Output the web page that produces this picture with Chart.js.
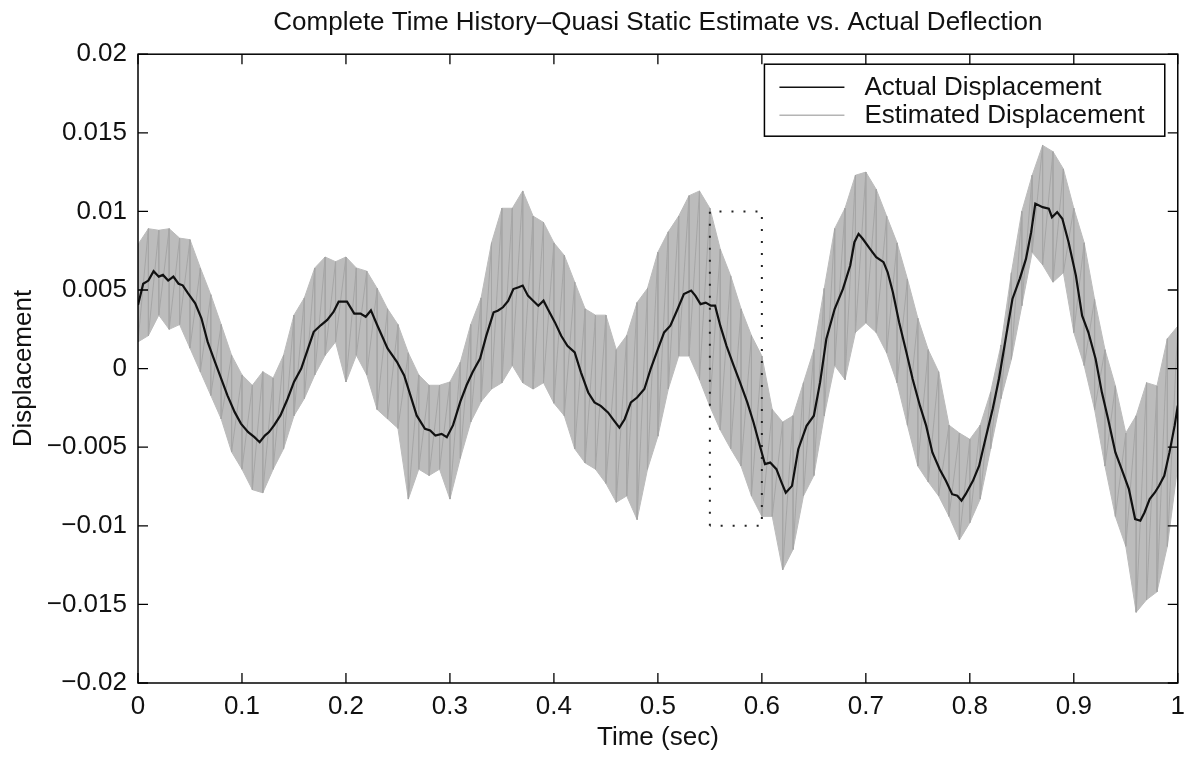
<!DOCTYPE html>
<html>
<head>
<meta charset="utf-8">
<title>Complete Time History</title>
<script src="https://cdn.jsdelivr.net/npm/chart.js@4.4.1/dist/chart.umd.min.js"></script>
<style>
  html, body { margin: 0; padding: 0; background: #fff; }
  #wrap { width: 1193px; height: 761px; }
</style>
</head>
<body>
<div id="wrap"><canvas id="chart" width="1193" height="761"></canvas></div>
<script>
// axis ticks
var xTickValues = [0, 0.1, 0.2, 0.3, 0.4, 0.5, 0.6, 0.7, 0.8, 0.9, 1];
var xTickLabels = ["0", "0.1", "0.2", "0.3", "0.4", "0.5", "0.6", "0.7", "0.8", "0.9", "1"];
var yTickValues = [-0.02, -0.015, -0.01, -0.005, 0, 0.005, 0.01, 0.015, 0.02];
var yTickLabels = ["\u22120.02", "\u22120.015", "\u22120.01", "\u22120.005", "0", "0.005", "0.01", "0.015", "0.02"];

// actual displacement (black line)
var actualTime = [0, 0.005, 0.010, 0.015, 0.020, 0.024, 0.029, 0.034, 0.039, 0.043, 0.048, 0.055, 0.061, 0.067, 0.074, 0.080, 0.086, 0.093, 0.099,
  0.106, 0.112, 0.117, 0.122, 0.126, 0.131, 0.137, 0.144, 0.150, 0.157, 0.163, 0.169, 0.176, 0.182, 0.188, 0.193, 0.201, 0.208, 0.214, 0.219,
  0.224, 0.230, 0.240, 0.249, 0.256, 0.262, 0.268, 0.276, 0.281, 0.286, 0.292, 0.297, 0.303, 0.310, 0.316, 0.322, 0.329, 0.335, 0.342, 0.346,
  0.351, 0.356, 0.361, 0.366, 0.370, 0.375, 0.380, 0.385, 0.390, 0.394, 0.401, 0.407, 0.413, 0.420, 0.426, 0.433, 0.439, 0.445, 0.452, 0.458,
  0.463, 0.468, 0.474, 0.480, 0.487, 0.493, 0.500, 0.506, 0.512, 0.519, 0.525, 0.532, 0.536, 0.541, 0.546, 0.551, 0.555, 0.560, 0.566, 0.573,
  0.579, 0.586, 0.592, 0.599, 0.603, 0.608, 0.614, 0.619, 0.623, 0.629, 0.635, 0.643, 0.650, 0.656, 0.662, 0.670, 0.678, 0.685, 0.689, 0.693,
  0.697, 0.704, 0.710, 0.717, 0.721, 0.726, 0.732, 0.739, 0.745, 0.752, 0.758, 0.764, 0.771, 0.777, 0.783, 0.788, 0.792, 0.796, 0.803, 0.809,
  0.815, 0.822, 0.828, 0.835, 0.841, 0.848, 0.854, 0.859, 0.863, 0.870, 0.876, 0.879, 0.884, 0.889, 0.895, 0.902, 0.908, 0.914, 0.921, 0.927,
  0.933, 0.940, 0.946, 0.953, 0.959, 0.964, 0.968, 0.973, 0.978, 0.982, 0.987, 0.992, 0.997, 1.000];
var actualDisp = [0.00404, 0.0054, 0.0056, 0.0062, 0.00585, 0.00596, 0.0056, 0.00585, 0.0054, 0.0053, 0.0048, 0.00415, 0.0032, 0.0017, 0.00043, -0.00064, -0.0017, -0.00277, -0.0035,
  -0.00404, -0.00436, -0.00468, -0.00426, -0.00404, -0.0036, -0.00298, -0.0019, -0.00085, 0, 0.00117, 0.00234, 0.00277, 0.0031, 0.0036, 0.00426, 0.00426, 0.0035, 0.0035, 0.0033,
  0.0037, 0.00277, 0.00128, 0.00043, -0.00043, -0.0017, -0.00298, -0.00383, -0.00394, -0.00426, -0.00415, -0.00436, -0.0036, -0.0021, -0.00106, -0.0002, 0.00064, 0.0021, 0.00358, 0.00368,
  0.0039, 0.0043, 0.00506, 0.00517, 0.00528, 0.00464, 0.00432, 0.0040, 0.00432, 0.0038, 0.00294, 0.00209, 0.00145, 0.00103, -0.00024, -0.00152, -0.00215, -0.00237, -0.00279, -0.00332,
  -0.00375, -0.00322, -0.00215, -0.00184, -0.0013, -0.00003, 0.00124, 0.0023, 0.00273, 0.00379, 0.00474, 0.00496, 0.00464, 0.0041, 0.0042, 0.0040, 0.0040, 0.00273, 0.00145, 0.00018,
  -0.00088, -0.00215, -0.00343, -0.00513, -0.00608, -0.00598, -0.0064, -0.00725, -0.0079, -0.00746, -0.00513, -0.00364, -0.0030, -0.00088, 0.00188, 0.00379, 0.00507, 0.00656, 0.00804, 0.00857,
  0.00826, 0.00762, 0.00709, 0.00677, 0.00613, 0.00486, 0.00295, 0.00104, -0.00066, -0.00236, -0.00363, -0.00533, -0.0064, -0.00714, -0.00799, -0.00809, -0.0084, -0.00799, -0.00714, -0.00618,
  -0.00448, -0.00257, -0.00066, 0.0021, 0.00443, 0.00571, 0.00698, 0.00868, 0.0105, 0.01027, 0.01017, 0.00963, 0.00995, 0.00953, 0.00804, 0.00592, 0.00337, 0.00231, 0.00061, -0.00151,
  -0.0032, -0.00533, -0.0064, -0.00767, -0.00957, -0.00968, -0.00915, -0.0083, -0.00788, -0.00745, -0.00682, -0.00533, -0.00363, -0.00236];

// estimated displacement (grey trace): upper and lower edge of the band, every 0.01 s
var estTime = [0, 0.01, 0.02, 0.03, 0.04, 0.05, 0.06, 0.07, 0.08, 0.09, 0.10, 0.11, 0.12, 0.13, 0.14, 0.15, 0.16, 0.17, 0.18, 0.19,
  0.20, 0.21, 0.22, 0.23, 0.24, 0.25, 0.26, 0.27, 0.28, 0.29, 0.30, 0.31, 0.32, 0.33, 0.34, 0.35, 0.36, 0.37, 0.38, 0.39,
  0.40, 0.41, 0.42, 0.43, 0.44, 0.45, 0.46, 0.47, 0.48, 0.49, 0.50, 0.51, 0.52, 0.53, 0.54, 0.55, 0.56, 0.57, 0.58, 0.59,
  0.60, 0.61, 0.62, 0.63, 0.64, 0.65, 0.66, 0.67, 0.68, 0.69, 0.70, 0.71, 0.72, 0.73, 0.74, 0.75, 0.76, 0.77, 0.78, 0.79,
  0.80, 0.81, 0.82, 0.83, 0.84, 0.85, 0.86, 0.87, 0.88, 0.89, 0.90, 0.91, 0.92, 0.93, 0.94, 0.95, 0.96, 0.97, 0.98, 0.99, 1.00];
var estUpper = [0.0079, 0.0089, 0.0088, 0.0089, 0.0083, 0.0082, 0.0064, 0.0047, 0.0028, 0.00085, -0.0004, -0.00106, -0.0002, -0.0006, 0.00085, 0.0034, 0.0045, 0.0064, 0.0071, 0.0068,
  0.0071, 0.0064, 0.0062, 0.0051, 0.0038, 0.0028, 0.0010, -0.0004, -0.00106, -0.00106, -0.00085, 0.0004, 0.0028, 0.0045, 0.0080, 0.0102, 0.0102, 0.0113, 0.0097, 0.0093,
  0.0080, 0.0072, 0.0055, 0.0038, 0.0034, 0.0034, 0.0012, 0.0021, 0.0042, 0.0051, 0.0074, 0.0087, 0.0097, 0.0110, 0.0113, 0.0102, 0.0076, 0.0059, 0.0038, 0.0021,
  0.0008, -0.0026, -0.0034, -0.0030, -0.0009, 0.0012, 0.0051, 0.0089, 0.0102, 0.0123, 0.0125, 0.0114, 0.0097, 0.0080, 0.0057, 0.0032, 0.0012, -0.0002, -0.0036, -0.0041,
  -0.0045, -0.0036, -0.0015, 0.0015, 0.0061, 0.0100, 0.0123, 0.0142, 0.0138, 0.0127, 0.0102, 0.0080, 0.0044, 0.0012, -0.0011, -0.0041, -0.0030, -0.0009, -0.0011, 0.0019, 0.0027];
var estLower = [0.0017, 0.0021, 0.0034, 0.0025, 0.0028, 0.0013, -0.0002, -0.0017, -0.0032, -0.0053, -0.0064, -0.0077, -0.0079, -0.0064, -0.0051, -0.0030, -0.0019, -0.0004, 0.00085, 0.0017,
  -0.00085, 0.00085, -0.0004, -0.0026, -0.0032, -0.0038, -0.0083, -0.0064, -0.0068, -0.0064, -0.0083, -0.0057, -0.0034, -0.0021, -0.0013, -0.0009, 0.0002, -0.0009, -0.0013, -0.0009,
  -0.0022, -0.0030, -0.0051, -0.0060, -0.0064, -0.0073, -0.0085, -0.0081, -0.0096, -0.0064, -0.0043, -0.0013, 0.0008, 0.0008, -0.0007, -0.0024, -0.0039, -0.0051, -0.0062, -0.0081,
  -0.0094, -0.0094, -0.0128, -0.0115, -0.0081, -0.0068, -0.0030, 0.0002, -0.0007, 0.0023, 0.0029, 0.0023, 0.0010, -0.0009, -0.0036, -0.0062, -0.0072, -0.0081, -0.0094, -0.0109,
  -0.0098, -0.0083, -0.0051, -0.0019, 0.0006, 0.0040, 0.0074, 0.0066, 0.0055, 0.0061, 0.0023, 0.0002, -0.0026, -0.0062, -0.0094, -0.0113, -0.0155, -0.0147, -0.0142, -0.0113, -0.0062];

// dotted window
var windowTime = [0.55, 0.55, 0.60, 0.60, 0.55];
var windowDisp = [-0.01, 0.01, 0.01, -0.01, -0.01];

var FONT = "'Liberation Sans', Arial, Helvetica, sans-serif";

var toPoints = function (xs, ys) {
	var pts = [];
	for (var i = 0; i < xs.length; i++) {
		pts.push({ x: xs[i], y: ys[i] });
	}
	return pts;
};

// zigzag between the two edges, gives the striped look of the grey trace
var zigzag = [];
for (var i = 0; i < estTime.length; i++) {
	zigzag.push({ x: estTime[i], y: estUpper[i] });
	zigzag.push({ x: estTime[i], y: estLower[i] });
}

// MATLAB style box with inward ticks
var boxPlugin = {
	id: 'box',
	afterDatasetsDraw: function (chart) {
		var ctx = chart.ctx, a = chart.chartArea;
		var xs = chart.scales.x, ys = chart.scales.y;
		ctx.save();
		ctx.strokeStyle = '#000';
		ctx.lineWidth = 1.3;
		ctx.beginPath();
		xTickValues.forEach(function (v) {
			var px = xs.getPixelForValue(v);
			ctx.moveTo(px, a.bottom); ctx.lineTo(px, a.bottom - 10);
			ctx.moveTo(px, a.top); ctx.lineTo(px, a.top + 10);
		});
		yTickValues.forEach(function (v) {
			var py = ys.getPixelForValue(v);
			ctx.moveTo(a.left, py); ctx.lineTo(a.left + 10, py);
			ctx.moveTo(a.right, py); ctx.lineTo(a.right - 10, py);
		});
		ctx.stroke();
		ctx.lineWidth = 1.5;
		ctx.strokeRect(a.left, a.top, a.right - a.left, a.bottom - a.top);
		ctx.restore();
	}
};

// boxed legend in the upper right corner
var legendPlugin = {
	id: 'boxLegend',
	afterDraw: function (chart) {
		var ctx = chart.ctx, a = chart.chartArea;
		var items = [chart.data.datasets[0], chart.data.datasets[2]];
		ctx.save();
		ctx.font = '26px ' + FONT;
		var tw = 0;
		items.forEach(function (d) { tw = Math.max(tw, ctx.measureText(d.label).width); });
		var w = 15 + 65 + 20 + tw + 20, h = 72;
		var left = a.right - 13 - w, top = a.top + 10;
		ctx.fillStyle = '#fff';
		ctx.fillRect(left, top, w, h);
		ctx.strokeStyle = '#000';
		ctx.lineWidth = 1.5;
		ctx.strokeRect(left, top, w, h);
		ctx.textBaseline = 'middle';
		items.forEach(function (d, k) {
			var y = top + 23 + k * 28;
			ctx.strokeStyle = k === 0 ? d.borderColor : '#b4b4b4';
			ctx.lineWidth = k === 0 ? 1.6 : 1.4;
			ctx.beginPath();
			ctx.moveTo(left + 15, y);
			ctx.lineTo(left + 80, y);
			ctx.stroke();
			ctx.fillStyle = '#111';
			ctx.fillText(d.label, left + 100, y + 1);
		});
		ctx.restore();
	}
};

Chart.defaults.font.family = FONT;
Chart.defaults.color = '#111';

new Chart(document.getElementById('chart'), {
	type: 'line',
	data: {
		datasets: [
			{
				label: 'Actual Displacement',
				data: toPoints(actualTime, actualDisp),
				borderColor: '#111',
				borderWidth: 2.2,
				pointRadius: 0,
				fill: false
			},
			{
				label: 'window',
				data: toPoints(windowTime, windowDisp),
				borderColor: '#222',
				borderWidth: 2,
				borderDash: [2, 10],
				pointRadius: 0,
				fill: false
			},
			{
				label: 'Estimated Displacement',
				data: zigzag,
				borderColor: '#a6a6a6',
				borderWidth: 1,
				pointRadius: 0,
				fill: false
			},
			{
				label: 'upper',
				data: toPoints(estTime, estUpper),
				borderColor: '#bcbcbc',
				borderWidth: 1,
				backgroundColor: '#bcbcbc',
				pointRadius: 0,
				fill: '+1'
			},
			{
				label: 'lower',
				data: toPoints(estTime, estLower),
				borderColor: '#bcbcbc',
				borderWidth: 1,
				pointRadius: 0,
				fill: false
			}
		]
	},
	options: {
		responsive: false,
		animation: false,
		events: [],
		layout: { padding: { top: 7, right: 10, left: 0, bottom: 0 } },
		plugins: {
			legend: { display: false },
			tooltip: { enabled: false },
			title: {
				display: true,
				fullSize: false,
				text: 'Complete Time History\u2013Quasi Static Estimate vs. Actual Deflection',
				color: '#111',
				font: { size: 26, weight: 'normal' },
				padding: { top: 0, bottom: 16 }
			}
		},
		scales: {
			x: {
				type: 'linear',
				min: 0,
				max: 1,
				afterBuildTicks: function (scale) {
					scale.ticks = xTickValues.map(function (v) { return { value: v }; });
				},
				afterFit: function (scale) { scale.height = 78; },
				ticks: {
					autoSkip: false,
					maxRotation: 0,
					padding: 8,
					color: '#111',
					font: { size: 26 },
					callback: function (v, i) { return xTickLabels[i]; }
				},
				grid: { display: false, drawTicks: false },
				border: { display: false },
				title: {
					display: true,
					text: 'Time (sec)',
					color: '#111',
					font: { size: 26 },
					padding: { top: 0, bottom: 8 }
				}
			},
			y: {
				type: 'linear',
				min: -0.02,
				max: 0.02,
				afterBuildTicks: function (scale) {
					scale.ticks = yTickValues.map(function (v) { return { value: v }; });
				},
				afterFit: function (scale) { scale.width = 138; },
				ticks: {
					autoSkip: false,
					padding: 11,
					color: '#111',
					font: { size: 26 },
					callback: function (v, i) { return yTickLabels[i]; }
				},
				grid: { display: false, drawTicks: false },
				border: { display: false },
				title: {
					display: true,
					text: 'Displacement',
					color: '#111',
					font: { size: 26 },
					padding: { top: 8, bottom: 0 }
				}
			}
		}
	},
	plugins: [boxPlugin, legendPlugin]
});
</script>
</body>
</html>
